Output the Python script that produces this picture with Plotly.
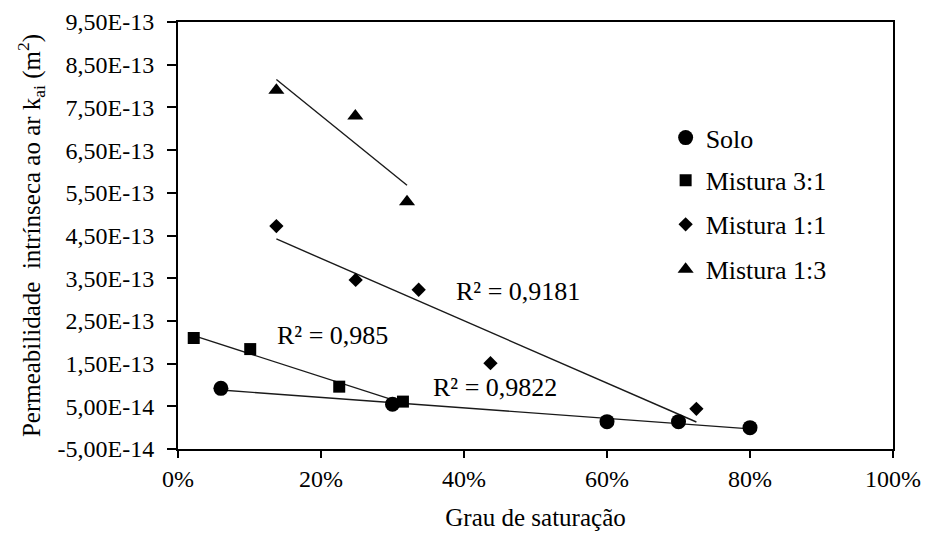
import numpy as np
import plotly.graph_objects as go

# ---- data ----
series_names = ["Solo", "Mistura 3:1", "Mistura 1:1", "Mistura 1:3"]

sat_solo = [0.060, 0.300, 0.600, 0.700, 0.800]
k_solo = [9.2e-14, 5.5e-14, 1.4e-14, 1.4e-14, 0.0]

sat_31 = [0.022, 0.101, 0.2255, 0.3146]
k_31 = [2.10e-13, 1.84e-13, 9.6e-14, 6.1e-14]

sat_11 = [0.1376, 0.2485, 0.3366, 0.437, 0.725]
k_11 = [4.72e-13, 3.46e-13, 3.23e-13, 1.51e-13, 4.4e-14]

sat_13 = [0.1376, 0.248, 0.3203]
k_13 = [7.90e-13, 7.30e-13, 5.29e-13]

r2_labels = ["R² = 0,9822", "R² = 0,985", "R² = 0,9181"]

y_tick_values = [-5e-14, 5e-14, 1.5e-13, 2.5e-13, 3.5e-13, 4.5e-13,
                 5.5e-13, 6.5e-13, 7.5e-13, 8.5e-13, 9.5e-13]
y_tick_labels = [f"{v:.2E}".replace(".", ",") for v in y_tick_values]
x_tick_values = [0, 0.2, 0.4, 0.6, 0.8, 1.0]
x_tick_labels = ["0%", "20%", "40%", "60%", "80%", "100%"]

FONT = "Liberation Serif"
BLACK = "#000000"

fig = go.Figure()

series = [
    (sat_solo, k_solo, "circle", 15),
    (sat_31, k_31, "square", 12),
    (sat_11, k_11, "diamond", 11),
    (sat_13, k_13, "triangle-up", 14),
]
legend_ids = ["legend", "legend2", "legend3", "legend4"]

# trend lines (linear fits over each series' range)
for (xs, ys, sym, size) in series:
    a, b = np.polyfit(xs, ys, 1)
    xl = np.array([min(xs), max(xs)])
    fig.add_trace(go.Scatter(x=xl, y=a * xl + b, mode="lines",
                             line=dict(color="#1a1a1a", width=1.4),
                             showlegend=False, hoverinfo="skip"))

for (xs, ys, sym, size), name, lg in zip(series, series_names, legend_ids):
    fig.add_trace(go.Scatter(x=xs, y=ys, mode="markers", name=name,
                             marker=dict(symbol=sym, size=size, color=BLACK,
                                         line=dict(width=0)),
                             legend=lg))

axis_common = dict(showline=True, linecolor=BLACK, linewidth=2, mirror=True,
                   ticks="outside", tickwidth=2, tickcolor=BLACK,
                   showgrid=False, zeroline=False, automargin=False,
                   tickfont=dict(family=FONT, size=24, color=BLACK))

fig.update_xaxes(range=[0, 1], tickvals=x_tick_values, ticktext=x_tick_labels,
                 ticklen=7,
                 title=dict(text="Grau de saturação",
                            font=dict(family=FONT, size=25, color=BLACK),
                            standoff=18),
                 **axis_common)
fig.update_yaxes(range=[-5e-14, 9.5e-13], tickvals=y_tick_values,
                 ticktext=y_tick_labels, ticklen=9, ticklabelstandoff=8,
                 title=dict(text="Permeabilidade  intrínseca ao ar k<sub>ai</sub> (m<sup>2</sup>)",
                            font=dict(family=FONT, size=25, color=BLACK),
                            standoff=10),
                 **axis_common)

# R² labels
ann_pos = [(0.443, 9.3e-14), (0.2157, 2.15e-13), (0.475, 3.18e-13)]
for (ax, ay), txt in zip(ann_pos, r2_labels):
    fig.add_annotation(x=ax, y=ay, xref="x", yref="y", text=txt,
                       showarrow=False,
                       font=dict(family=FONT, size=26, color=BLACK))

legend_y = [0.729, 0.629, 0.526, 0.421]
leg_layout = {}
for lg, ly in zip(legend_ids, legend_y):
    leg_layout[lg] = dict(x=0.682, y=ly, xanchor="left", yanchor="middle",
                          bgcolor="rgba(0,0,0,0)", borderwidth=0,
                          font=dict(family=FONT, size=26, color=BLACK))

fig.update_layout(width=928, height=534,
                  margin=dict(l=178, r=35, t=22, b=85),
                  paper_bgcolor="white", plot_bgcolor="white",
                  font=dict(family=FONT, size=24, color=BLACK),
                  **leg_layout)

fig.write_html("out.html")
